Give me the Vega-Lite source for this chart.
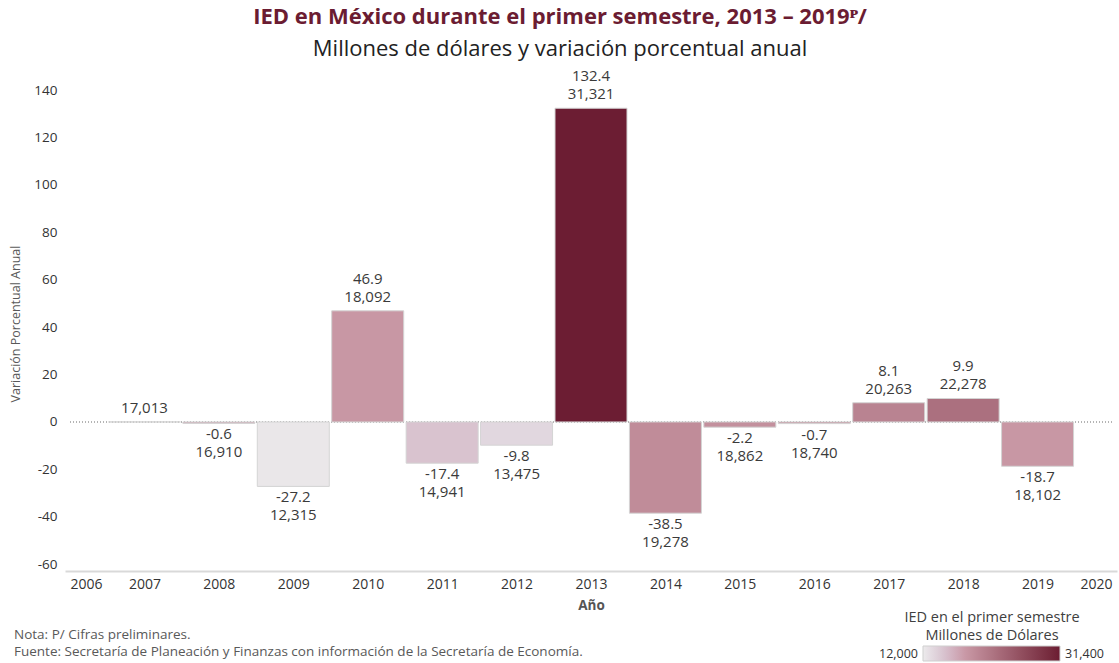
{
  "$schema": "https://vega.github.io/schema/vega-lite/v6.json",
  "autosize": {"type": "none"},
  "width": 1052,
  "height": 495,
  "padding": {"left": 65, "top": 76, "right": 2, "bottom": 92},
  "config": {
    "font": "Open Sans",
    "view": {"stroke": null},
    "text": {"font": "Open Sans"},
    "locale": {
      "number": {
        "decimal": ".",
        "thousands": ",",
        "grouping": [3],
        "currency": ["$", ""],
        "minus": "-"
      }
    }
  },
  "title": {
    "text": "IED en México durante el primer semestre, 2013 – 2019ᴾ/",
    "subtitle": "Millones de dólares y variación porcentual anual",
    "anchor": "middle",
    "dx": -31,
    "offset": 8,
    "font": "Open Sans",
    "fontSize": 22,
    "fontWeight": "bold",
    "color": "#6b1c32",
    "subtitleFont": "Open Sans",
    "subtitleFontSize": 22,
    "subtitleColor": "#222222",
    "subtitlePadding": 10
  },
  "data": {
    "values": [
      {"year": 2007, "var": null, "ied": 17013},
      {"year": 2008, "var": -0.6, "ied": 16910},
      {"year": 2009, "var": -27.2, "ied": 12315},
      {"year": 2010, "var": 46.9, "ied": 18092},
      {"year": 2011, "var": -17.4, "ied": 14941},
      {"year": 2012, "var": -9.8, "ied": 13475},
      {"year": 2013, "var": 132.4, "ied": 31321},
      {"year": 2014, "var": -38.5, "ied": 19278},
      {"year": 2015, "var": -2.2, "ied": 18862},
      {"year": 2016, "var": -0.7, "ied": 18740},
      {"year": 2017, "var": 8.1, "ied": 20263},
      {"year": 2018, "var": 9.9, "ied": 22278},
      {"year": 2019, "var": -18.7, "ied": 18102}
    ]
  },
  "encoding": {
    "x": {
      "field": "year",
      "type": "quantitative",
      "scale": {"domain": [2006, 2020], "nice": false, "zero": false},
      "axis": {
        "values": [2006, 2007, 2008, 2009, 2010, 2011, 2012, 2013, 2014, 2015, 2016, 2017, 2018, 2019, 2020],
        "format": "d",
        "ticks": false,
        "grid": false,
        "labelFlush": true,
        "labelAlign": {
          "condition": [
            {"test": "datum.value <= 2006", "value": "left"},
            {"test": "datum.value >= 2020", "value": "right"}
          ],
          "value": "center"
        },
        "domainColor": "#d9d9d9",
        "domainWidth": 2,
        "labelPadding": 6,
        "labelFontSize": 14,
        "labelColor": "#333333",
        "title": "Año",
        "titleFontSize": 13.5,
        "titleFontWeight": "bold",
        "titleColor": "#555555",
        "titlePadding": 7
      }
    },
    "y": {
      "field": "var",
      "type": "quantitative",
      "scale": {"domain": [-62.9, 146], "nice": false, "zero": false},
      "axis": {
        "values": [-60, -40, -20, 0, 20, 40, 60, 80, 100, 120, 140],
        "domain": false,
        "ticks": false,
        "grid": false,
        "labelPadding": 8,
        "labelFontSize": 13.5,
        "labelColor": "#333333",
        "title": "Variación Porcentual Anual",
        "titleFontSize": 12.5,
        "titleFontWeight": "normal",
        "titleColor": "#595959",
        "titlePadding": 11
      }
    }
  },
  "layer": [
    {
      "mark": {"type": "rule", "strokeDash": [1, 2], "color": "#b5b5b5", "strokeWidth": 1},
      "encoding": {
        "x": {"datum": 2006},
        "x2": {"datum": 2020},
        "y": {"datum": 0}
      }
    },
    {
      "mark": {"type": "bar", "width": 72, "stroke": "#d4d4d4", "strokeWidth": 1, "invalid": "show"},
      "encoding": {
        "color": {
          "field": "ied",
          "type": "quantitative",
          "scale": {"domain": [12000, 18100, 31400], "range": ["#ecebec", "#c897a4", "#6b1c32"]},
          "legend": {
            "orient": "none",
            "legendX": 839,
            "legendY": 535,
            "direction": "horizontal",
            "padding": 0,
            "gradientLength": 137,
            "gradientThickness": 15,
            "gradientStrokeColor": "#cfcfcf",
            "gradientStrokeWidth": 1,
            "title": ["IED en el primer semestre", "Millones de Dólares"],
            "titleFont": "Open Sans",
            "titleFontSize": 14.5,
            "titleFontWeight": "normal",
            "titleColor": "#404040",
            "titleAlign": "center",
            "titleAnchor": "middle",
            "titleLineHeight": 17.5,
            "titlePadding": 3,
            "titleLimit": 400,
            "values": [12000, 31400],
            "format": ",",
            "labelFontSize": 12.5,
            "labelColor": "#333333",
            "encode": {
              "labels": {
                "update": {
                  "text": {"signal": "format(datum.value, ',')"},
                  "x": {"signal": "datum.perc * 137 + (datum.perc > 0.5 ? 5 : -5)"},
                  "y": {"value": 7.5},
                  "align": {"signal": "datum.perc > 0.5 ? 'left' : 'right'"},
                  "baseline": {"value": "middle"}
                }
              }
            }
          }
        }
      }
    },
    {
      "transform": [{"filter": "!isValid(datum.var) || datum.var >= 0"}],
      "mark": {"type": "text", "baseline": "middle", "dy": -14, "fontSize": 15, "color": "#3a3a3a", "invalid": "show"},
      "encoding": {"text": {"field": "ied", "type": "quantitative", "format": ","}}
    },
    {
      "transform": [{"filter": "isValid(datum.var) && datum.var >= 0"}],
      "mark": {"type": "text", "baseline": "middle", "dy": -32, "fontSize": 15, "color": "#3a3a3a"},
      "encoding": {"text": {"field": "var", "type": "quantitative", "format": ".1f"}}
    },
    {
      "transform": [{"filter": "isValid(datum.var) && datum.var < 0"}],
      "mark": {"type": "text", "baseline": "middle", "dy": 11, "fontSize": 15, "color": "#3a3a3a"},
      "encoding": {"text": {"field": "var", "type": "quantitative", "format": ".1f"}}
    },
    {
      "transform": [{"filter": "isValid(datum.var) && datum.var < 0"}],
      "mark": {"type": "text", "baseline": "middle", "dy": 29, "fontSize": 15, "color": "#3a3a3a"},
      "encoding": {"text": {"field": "ied", "type": "quantitative", "format": ","}}
    },
    {
      "data": {"values": [{}]},
      "mark": {"type": "text", "align": "left", "baseline": "alphabetic", "fontSize": 13.5, "color": "#595959", "lineHeight": 17},
      "encoding": {
        "x": {"value": -51},
        "y": {"value": 563},
        "text": {"value": ["Nota: P/ Cifras preliminares.", "Fuente: Secretaría de Planeación y Finanzas con información de la Secretaría de Economía."]}
      }
    }
  ]
}
